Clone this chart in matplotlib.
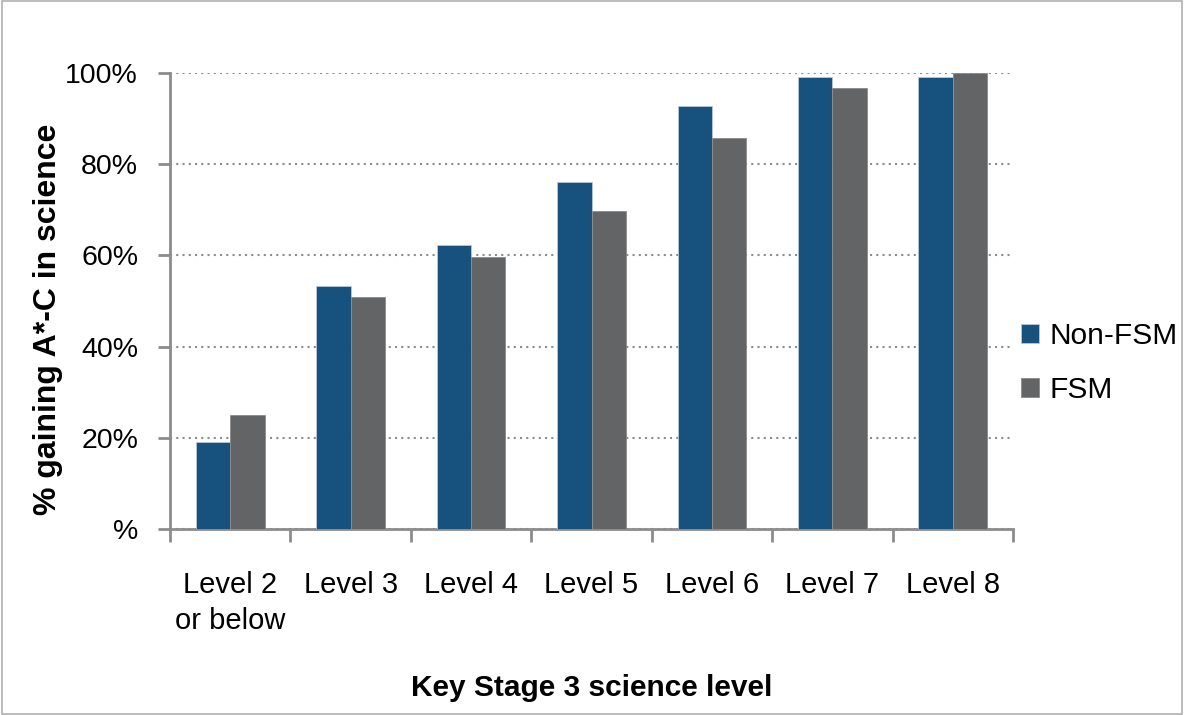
import matplotlib.pyplot as plt
import numpy as np
from matplotlib.patches import Rectangle

plt.rcParams['font.family'] = ['Liberation Sans', 'DejaVu Sans']

levels = ['Level 2\nor below', 'Level 3', 'Level 4', 'Level 5', 'Level 6', 'Level 7', 'Level 8']
non_fsm = [19.1, 53.3, 62.2, 76.1, 92.8, 99.2, 99.2]
fsm = [25.0, 50.9, 59.6, 69.7, 85.7, 96.8, 100.0]
ytick_labels = ['%', '20%', '40%', '60%', '80%', '100%']

blue = '#17527f'
grey = '#636466'

fig = plt.figure(figsize=(11.84, 7.15), dpi=100)
ax = fig.add_axes([0.1436, 0.2601, 0.712, 0.6379])

x = np.arange(len(levels))
w = 0.285
ax.bar(x - w/2, non_fsm, w, color=blue, edgecolor='#b8c8d8', linewidth=0.6, label='Non-FSM', zorder=3)
ax.bar(x + w/2, fsm, w, color=grey, edgecolor='#8a8a8a', linewidth=0.6, label='FSM', zorder=3)

ax.set_xlim(-0.5, len(levels) - 0.5)
ax.set_ylim(0, 100)
ax.set_yticks(range(0, 101, 20))
ax.set_yticklabels(ytick_labels, fontsize=20.5)
ax.yaxis.grid(True, linestyle=(0, (1, 2)), color='#8c8c8c', linewidth=1.5, zorder=0)

# category labels centred, ticks between categories
ax.set_xticks(x)
ax.set_xticklabels(levels, fontsize=21, linespacing=1.4)
ax.tick_params(axis='x', length=0, pad=30)
ax.set_xticks(np.arange(-0.5, len(levels)), minor=True)
ax.tick_params(axis='x', which='minor', length=9, width=2, color='#8c8c8c', direction='out')
ax.tick_params(axis='y', length=9, width=2, color='#8c8c8c', pad=14)

for s in ['top', 'right']:
    ax.spines[s].set_visible(False)
for s in ['left', 'bottom']:
    ax.spines[s].set_color('#8c8c8c')
    ax.spines[s].set_linewidth(2)

ax.set_ylabel('% gaining A*-C in science', fontsize=23, fontweight='bold')
ax.yaxis.set_label_coords(-0.127, 0.46)
ax.set_xlabel('Key Stage 3 science level', fontsize=21.5, fontweight='bold', labelpad=28)

ax.legend(loc='center left', bbox_to_anchor=(1021 / 1184, 1 - 363 / 715),
          bbox_transform=fig.transFigure, frameon=False, fontsize=21.5,
          borderpad=0, borderaxespad=0,
          handlelength=0.6, handleheight=0.6, handletextpad=0.35, labelspacing=0.85)

fig.patches.append(Rectangle((0.002, 0.002), 0.996, 0.996, transform=fig.transFigure,
                             fill=False, edgecolor='#b0b0b0', linewidth=1.2))

fig.savefig('out.png', dpi=100)
